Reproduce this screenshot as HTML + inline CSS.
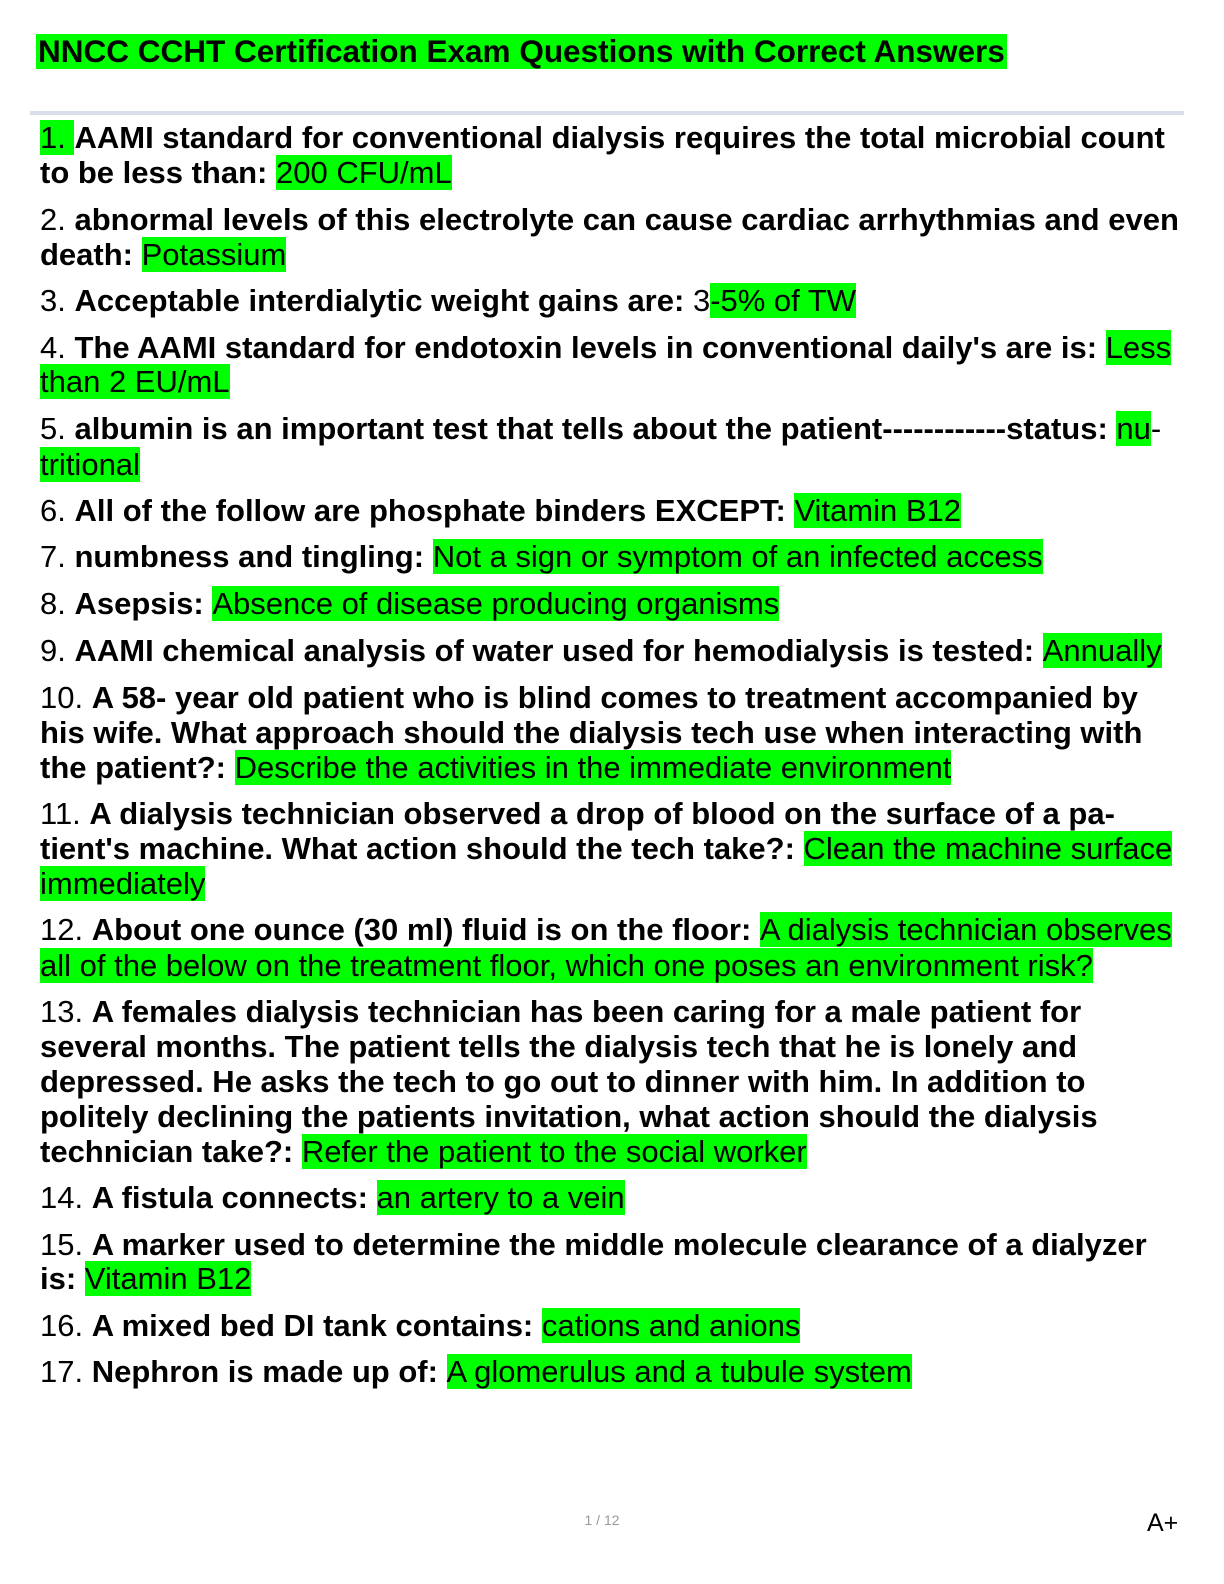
<!DOCTYPE html>
<html><head><meta charset="utf-8"><style>
html,body{margin:0;padding:0;background:#fff;}
body{width:1224px;height:1584px;position:relative;overflow:hidden;font-family:"Liberation Sans",Arial,sans-serif;color:#000;}
.l{position:absolute;left:40px;height:36px;line-height:36px;font-size:31px;white-space:nowrap;}
b{font-weight:bold;}
.g{background:#00ff00;}
</style></head><body>
<div style="position:absolute;left:36px;top:34px;height:35px;line-height:35px;font-size:31.5px;font-weight:bold;background:#00ff00;padding:0 2px 0 2px;white-space:nowrap;">NNCC CCHT Certification Exam Questions with Correct Answers</div>
<div style="position:absolute;left:30px;top:111px;width:1154px;height:4px;background:#d8dfe9;"></div>

<div class="l" style="top:120px"><span class="g">1. </span><b>AAMI standard for conventional dialysis requires the total microbial count</b></div>
<div class="l" style="top:155px"><b>to be less than: </b><span class="g">200 CFU/mL</span></div>

<div class="l" style="top:202px">2. <b>abnormal levels of this electrolyte can cause cardiac arrhythmias and even</b></div>
<div class="l" style="top:237px"><b>death: </b><span class="g">Potassium</span></div>

<div class="l" style="top:283px">3. <b>Acceptable interdialytic weight gains are: </b>3<span class="g">-5% of TW</span></div>

<div class="l" style="top:330px">4. <b>The AAMI standard for endotoxin levels in conventional daily's are is: </b><span class="g">Less</span></div>
<div class="l" style="top:364px"><span class="g">than 2 EU/mL</span></div>

<div class="l" style="top:411px">5. <b>albumin is an important test that tells about the patient------------status: </b><span class="g">nu</span>-</div>
<div class="l" style="top:447px"><span class="g">tritional</span></div>

<div class="l" style="top:493px">6. <b>All of the follow are phosphate binders EXCEPT: </b><span class="g">Vitamin B12</span></div>
<div class="l" style="top:539px">7. <b>numbness and tingling: </b><span class="g">Not a sign or symptom of an infected access</span></div>
<div class="l" style="top:586px">8. <b>Asepsis: </b><span class="g">Absence of disease producing organisms</span></div>
<div class="l" style="top:633px">9. <b>AAMI chemical analysis of water used for hemodialysis is tested: </b><span class="g">Annually</span></div>

<div class="l" style="top:680px">10. <b>A 58- year old patient who is blind comes to treatment accompanied by</b></div>
<div class="l" style="top:715px"><b>his wife. What approach should the dialysis tech use when interacting with</b></div>
<div class="l" style="top:750px"><b>the patient?: </b><span class="g">Describe the activities in the immediate environment</span></div>

<div class="l" style="top:796px">11. <b>A dialysis technician observed a drop of blood on the surface of a pa-</b></div>
<div class="l" style="top:831px"><b>tient's machine. What action should the tech take?: </b><span class="g">Clean the machine surface</span></div>
<div class="l" style="top:866px"><span class="g">immediately</span></div>

<div class="l" style="top:912px">12. <b>About one ounce (30 ml) fluid is on the floor: </b><span class="g">A dialysis technician observes</span></div>
<div class="l" style="top:948px"><span class="g">all of the below on the treatment floor, which one poses an environment risk?</span></div>

<div class="l" style="top:994px">13. <b>A females dialysis technician has been caring for a male patient for</b></div>
<div class="l" style="top:1029px"><b>several months. The patient tells the dialysis tech that he is lonely and</b></div>
<div class="l" style="top:1064px"><b>depressed. He asks the tech to go out to dinner with him. In addition to</b></div>
<div class="l" style="top:1099px"><b>politely declining the patients invitation, what action should the dialysis</b></div>
<div class="l" style="top:1134px"><b>technician take?: </b><span class="g">Refer the patient to the social worker</span></div>

<div class="l" style="top:1180px">14. <b>A fistula connects: </b><span class="g">an artery to a vein</span></div>

<div class="l" style="top:1227px">15. <b>A marker used to determine the middle molecule clearance of a dialyzer</b></div>
<div class="l" style="top:1261px"><b>is: </b><span class="g">Vitamin B12</span></div>

<div class="l" style="top:1308px">16. <b>A mixed bed DI tank contains: </b><span class="g">cations and anions</span></div>
<div class="l" style="top:1354px">17. <b>Nephron is made up of: </b><span class="g">A glomerulus and a tubule system</span></div>

<div style="position:absolute;left:572px;top:1512px;width:60px;text-align:center;font-size:14px;color:#999;">1 / 12</div>
<div style="position:absolute;left:1147px;top:1509px;font-size:25px;">A+</div>
</body></html>
